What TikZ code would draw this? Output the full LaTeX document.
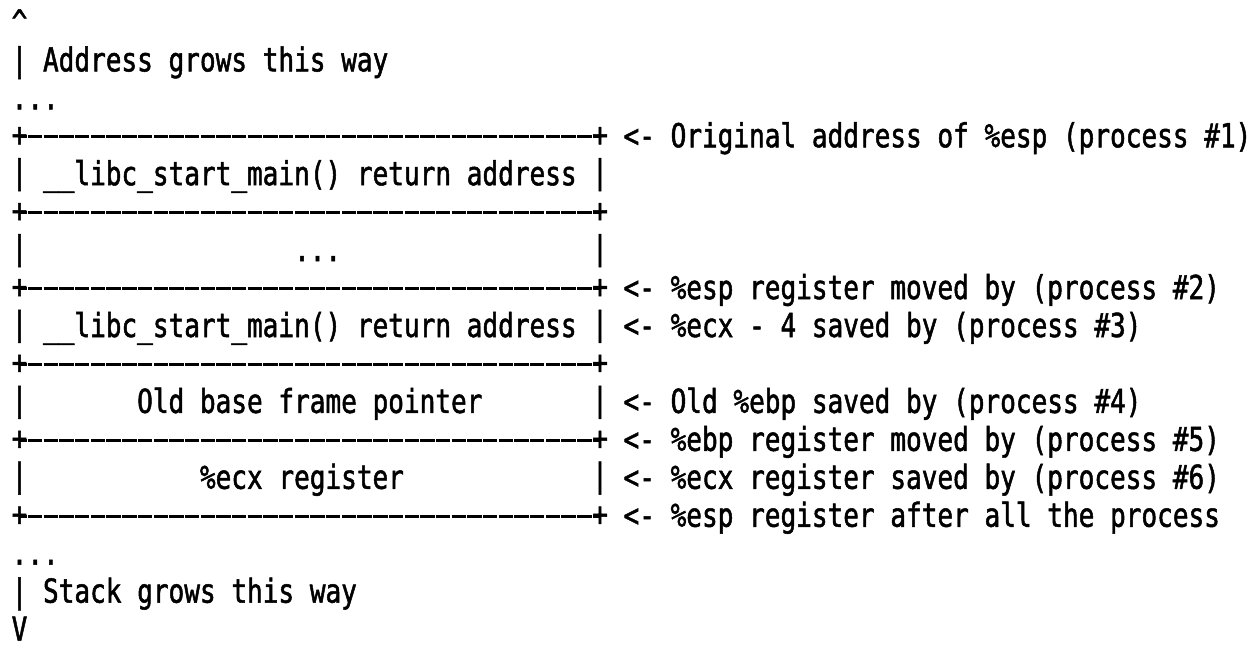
\documentclass[tikz,border=0pt]{standalone}
\usepackage{fontspec}
% condensed monospace face: 0.79 x DejaVu Sans Mono gives a 15.7pt cell at 33pt
\newfontfamily\asciifont[FakeStretch=0.79,FakeBold=1.5]{DejaVu Sans Mono}

\begin{document}
\begin{tikzpicture}[x=1pt,y=-1pt,
  declare function={
    colL(\x)=11.65+15.69*\x;    % left edge of character column
    colC(\x)=19.5+15.69*\x;     % centre of character column
    rowB(\x)=33.4+37.95*(\x-1); % baseline of text row
    rowC(\x)=22.8+37.95*(\x-1); % vertical centre of text row
  },
  glyph/.style={inner sep=0pt, outer sep=0pt, text=black,
    font=\asciifont\fontsize{33}{38}\selectfont},
  txt/.style={glyph, anchor=base west},
  chr/.style={glyph, anchor=center},
  border/.style={draw=black, line width=2.7pt,
    dash pattern=on 14.39pt off 1.3pt, dash phase=7.2pt}]

  % canvas
  \fill[white] (0,0) rectangle (1253,648);
  \useasboundingbox (0,0) rectangle (1253,648);

  % header: direction of growing addresses
  \node[txt] (up)      at ({colL(0)},{rowB(1)}) {\textasciicircum};
  \node[txt] (upnote)  at ({colL(0)},{rowB(2)}) {| Address grows this way};
  \node[txt] (topdots) at ({colL(0)},{rowB(3)}) {...};

  % horizontal separators of the stack frame
  \foreach \r in {4,6,8,10,12,14} {
    \node[chr] (b\r l) at ({colC(0)},{rowC(\r)}) {+};
    \node[chr] (b\r r) at ({colC(37)},{rowC(\r)}) {+};
    \draw[border] (b\r l.center) -- (b\r r.center);
  }

  % side walls of the stack slots
  \foreach \r in {5,7,9,11,13} {
    \node[chr] (w\r l) at ({colC(0)},{rowC(\r)}) {|};
    \node[chr] (w\r r) at ({colC(37)},{rowC(\r)}) {|};
  }

  % slot contents
  \node[txt] (s5)  at ({colL(2)},{rowB(5)})  {\_\_libc\_start\_main() return address};
  \node[txt] (s7)  at ({colL(18)},{rowB(7)}) {...};
  \node[txt] (s9)  at ({colL(2)},{rowB(9)})  {\_\_libc\_start\_main() return address};
  \node[txt] (s11) at ({colL(8)},{rowB(11)}) {Old base frame pointer};
  \node[txt] (s13) at ({colL(12)},{rowB(13)}) {\%ecx register};

  % annotations on the right
  \node[txt] (n4)  at ({colL(39)},{rowB(4)})  {<- Original address of \%esp (process \#1)};
  \node[txt] (n8)  at ({colL(39)},{rowB(8)})  {<- \%esp register moved by (process \#2)};
  \node[txt] (n9)  at ({colL(39)},{rowB(9)})  {<- \%ecx - 4 saved by (process \#3)};
  \node[txt] (n11) at ({colL(39)},{rowB(11)}) {<- Old \%ebp saved by (process \#4)};
  \node[txt] (n12) at ({colL(39)},{rowB(12)}) {<- \%ebp register moved by (process \#5)};
  \node[txt] (n13) at ({colL(39)},{rowB(13)}) {<- \%ecx register saved by (process \#6)};
  \node[txt] (n14) at ({colL(39)},{rowB(14)}) {<- \%esp register after all the process};

  % footer: direction of stack growth
  \node[txt] (botdots) at ({colL(0)},{rowB(15)}) {...};
  \node[txt] (downnote) at ({colL(0)},{rowB(16)}) {| Stack grows this way};
  \node[txt] (down)    at ({colL(0)},{rowB(17)}) {V};
\end{tikzpicture}
\end{document}
